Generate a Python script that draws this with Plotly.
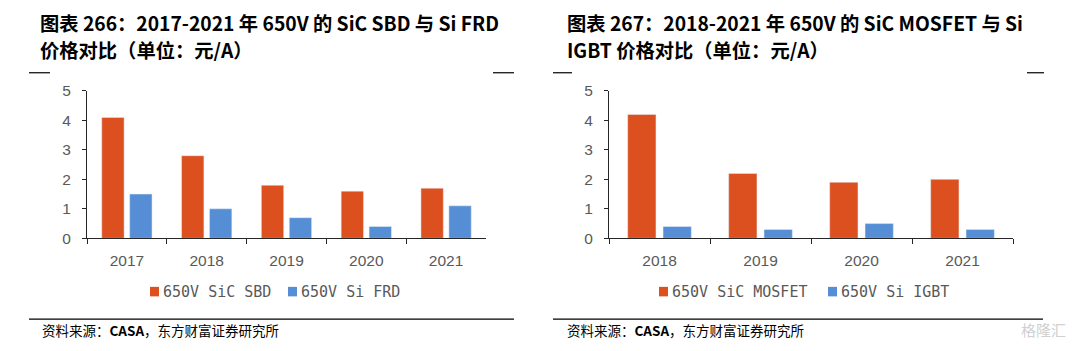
import plotly.graph_objects as go

W, H = 1073, 351

years_left = ["2017", "2018", "2019", "2020", "2021"]
sic_sbd = [4.1, 2.8, 1.8, 1.6, 1.7]
si_frd = [1.5, 1.0, 0.7, 0.4, 1.1]

years_right = ["2018", "2019", "2020", "2021"]
sic_mosfet = [4.2, 2.2, 1.9, 2.0]
si_igbt = [0.4, 0.3, 0.5, 0.3]

y_ticks = [0, 1, 2, 3, 4, 5]

ORANGE = "#DC4F1E"
BLUE = "#558ED5"
AX = "#595959"

def px(x):
    return x / W

def py(y):
    return 1 - y / H

fig = go.Figure()
fig.add_trace(go.Bar(x=years_left, y=sic_sbd, name="650V SiC SBD", marker_color=ORANGE,
                     xaxis="x", yaxis="y"))
fig.add_trace(go.Bar(x=years_left, y=si_frd, name="650V Si FRD", marker_color=BLUE,
                     xaxis="x", yaxis="y"))
fig.add_trace(go.Bar(x=years_right, y=sic_mosfet, name="650V SiC MOSFET", marker_color=ORANGE,
                     xaxis="x2", yaxis="y2"))
fig.add_trace(go.Bar(x=years_right, y=si_igbt, name="650V Si IGBT", marker_color=BLUE,
                     xaxis="x2", yaxis="y2"))

ydom = [py(241), py(86)]
TICKFONT = dict(family="Liberation Sans, Arial", size=15.5, color=AX)
xaxis_common = dict(type="category", showline=True, linecolor="#262626", linewidth=1.3,
                    ticks="outside", tickson="boundaries", ticklen=5, tickcolor="#262626",
                    tickfont=TICKFONT, ticklabelstandoff=8,
                    showgrid=False, zeroline=False)
yaxis_common = dict(range=[0, 5], tickvals=y_ticks, showline=True, linecolor="#262626",
                    linewidth=1.3, ticks="outside", ticklen=4, tickcolor="#262626",
                    tickfont=TICKFONT, ticklabelstandoff=8,
                    showgrid=False, zeroline=False, domain=ydom)

fig.update_layout(
    width=W, height=H, margin=dict(l=0, r=0, t=0, b=0),
    paper_bgcolor="white", plot_bgcolor="white",
    barmode="group", bargap=0.3, bargroupgap=0.2,
    xaxis=dict(domain=[px(87), px(486)], anchor="y", **xaxis_common),
    yaxis=dict(anchor="x", **yaxis_common),
    xaxis2=dict(domain=[px(609), px(1013)], anchor="y2", **xaxis_common),
    yaxis2=dict(anchor="x2", **yaxis_common),
    showlegend=False,
)

# manual legends (marker square + label), labels taken from trace names
LFONT = dict(family="DejaVu Sans Mono", size=15, color=AX)
legend_items = [
    (150, fig.data[0].name, ORANGE), (288, fig.data[1].name, BLUE),
    (659, fig.data[2].name, ORANGE), (828, fig.data[3].name, BLUE),
]
LY = 297
for x, name, col in legend_items:
    fig.add_shape(type="rect", xref="paper", yref="paper", x0=px(x), x1=px(x + 9),
                  y0=py(LY + 5), y1=py(LY - 5), fillcolor=col, line=dict(width=0))
    fig.add_annotation(x=px(x + 11), y=py(LY), xref="paper", yref="paper", text=name,
                       showarrow=False, xanchor="left", yanchor="middle", font=LFONT)

TFONT = dict(family="Noto Sans CJK SC", size=19.3, color="#000000")
titles = [
    (38, 15, "<b>图表 266：2017-2021 年 650V 的 SiC SBD 与 Si FRD</b>"),
    (38, 43, "<b>价格对比（单位：元/A）</b>"),
    (565, 15, "<b>图表 267：2018-2021 年 650V 的 SiC MOSFET 与 Si</b>"),
    (565, 43, "<b>IGBT 价格对比（单位：元/A）</b>"),
]
for x, y, t in titles:
    fig.add_annotation(x=px(x), y=py(y), xref="paper", yref="paper", text=t,
                       showarrow=False, xanchor="left", yanchor="middle", font=TFONT)

SFONT = dict(family="Noto Sans CJK SC", size=13.5, color="#000000")
for x, t in [(40, "资料来源：<b>CASA</b>，东方财富证券研究所"), (565, "资料来源：<b>CASA</b>，东方财富证券研究所")]:
    fig.add_annotation(x=px(x), y=py(337), xref="paper", yref="paper", text=t,
                       showarrow=False, xanchor="left", yanchor="middle", font=SFONT)

fig.add_annotation(x=px(1068), y=py(337), xref="paper", yref="paper", text="格隆汇",
                   showarrow=False, xanchor="right", yanchor="middle",
                   font=dict(family="Noto Sans CJK SC", size=15, color="#d0d0d0"))

lines = [
    (29, 50, 67), (493, 514, 67), (553, 572, 67), (1027, 1044, 67),
    (29, 514, 326), (553, 1043, 326),
]
for x0, x1, y in lines:
    fig.add_shape(type="line", xref="paper", yref="paper", x0=px(x0), x1=px(x1),
                  y0=py(y), y1=py(y), line=dict(color="#000000", width=1.2))

fig.write_html("out.html")
